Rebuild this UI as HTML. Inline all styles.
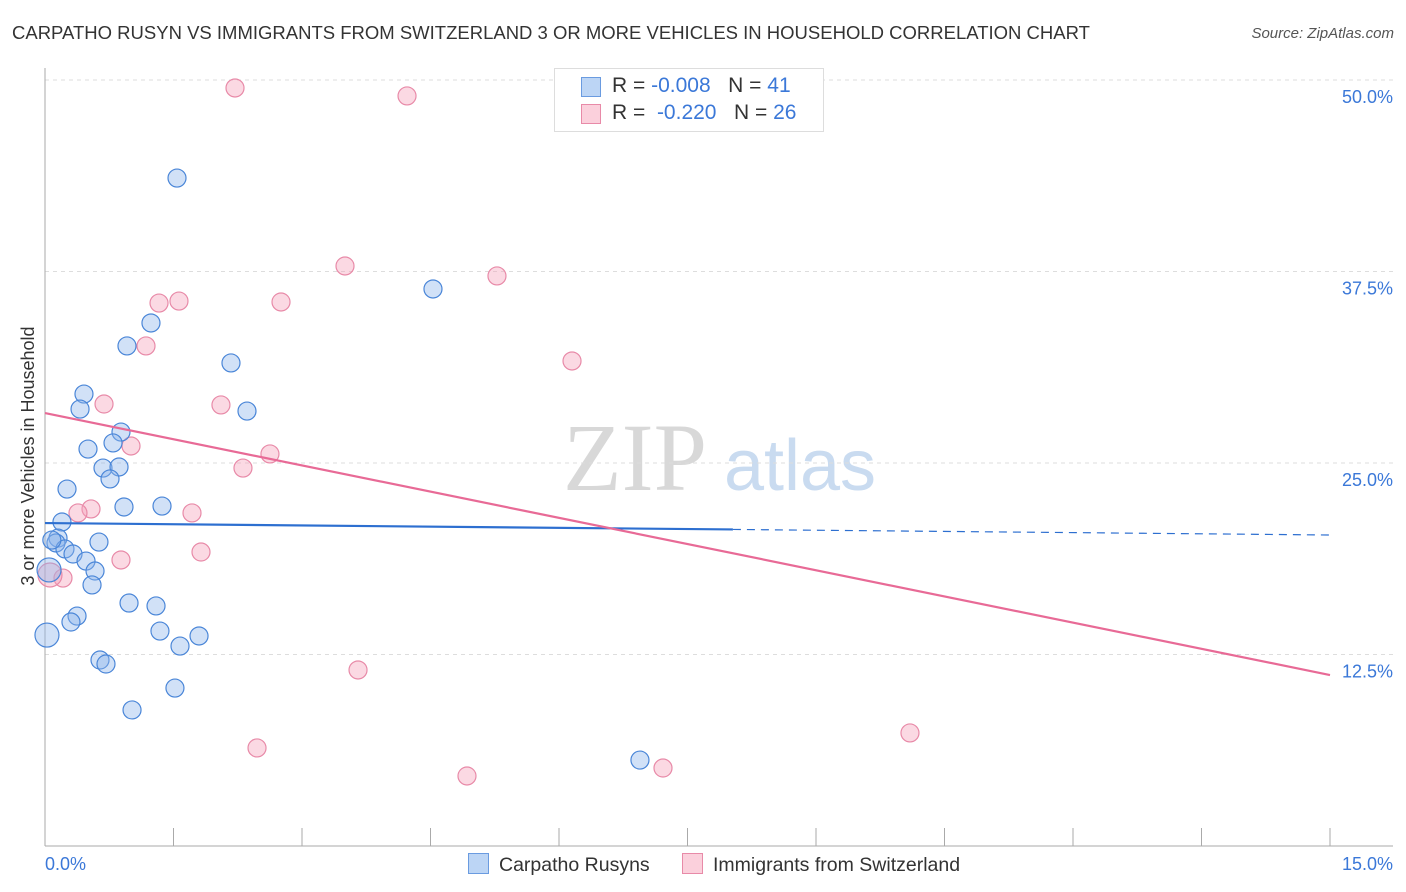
<!DOCTYPE html>
<html><head><meta charset="utf-8">
<style>
body{margin:0;background:#fff;font-family:"Liberation Sans",sans-serif;}
#wrap{position:relative;width:1406px;height:892px;overflow:hidden;}
.t{position:absolute;white-space:nowrap;}
</style></head>
<body>
<div id="wrap">
<div class="t" style="left:12px;top:22px;font-size:18.5px;color:#333;">CARPATHO RUSYN VS IMMIGRANTS FROM SWITZERLAND 3 OR MORE VEHICLES IN HOUSEHOLD CORRELATION CHART</div>
<div class="t" style="right:12px;top:25px;font-size:15px;color:#555;font-style:italic;">Source: ZipAtlas.com</div>
<svg id="svg" width="1406" height="892" style="position:absolute;left:0;top:0;"></svg>
</div>
<script>
const xTicks=[0,1.5,3,4.5,6,7.5,9,10.5,12,13.5,15];
const yTicks=[12.5,25,37.5,50];
const yTickLabels=["12.5%","25.0%","37.5%","50.0%"];
const blueX=[1.541,4.529,1.237,0.957,2.171,0.455,0.409,2.358,0.887,0.794,0.502,0.677,0.864,0.759,0.257,0.922,1.366,0.198,0.152,0.128,0.630,0.233,0.327,0.479,0.584,0.047,0.549,0.981,1.296,0.374,0.303,1.342,1.798,0.023,1.576,0.642,0.712,1.517,1.016,6.945,0.08];
const blueY=[43.60,36.36,34.14,32.64,31.53,29.50,28.52,28.39,27.02,26.31,25.91,24.67,24.74,23.96,23.30,22.13,22.19,21.15,20.10,19.78,19.84,19.39,19.06,18.60,17.95,18.02,17.04,15.86,15.67,15.01,14.62,14.03,13.71,13.77,13.05,12.14,11.88,10.31,8.88,5.61,19.97];
const pinkX=[2.218,4.226,3.502,5.276,1.331,1.564,2.755,1.179,6.152,0.689,2.054,1.004,2.626,2.311,0.537,0.385,1.716,1.821,0.887,0.210,0.058,3.654,2.475,10.097,4.926,7.214];
const pinkY=[49.48,48.96,37.86,37.21,35.44,35.57,35.51,32.64,31.66,28.85,28.79,26.11,25.59,24.67,22.00,21.74,21.74,19.19,18.67,17.49,17.69,11.49,6.40,7.38,4.57,5.09];
const blueTrend=[21.08,20.30];
const blueSolidEnd=8.03;
const pinkTrend=[28.26,11.16];
const X=v=>45+v/15*1285;
const Y=v=>846-v/12.5*191.5;
const svg=document.getElementById('svg');
const NS='http://www.w3.org/2000/svg';
function mk(tag,attrs){const e=document.createElementNS(NS,tag);for(const k in attrs)e.setAttribute(k,attrs[k]);svg.appendChild(e);return e;}
let wm=mk('text',{x:635,y:490,'font-size':96,'font-family':'Liberation Serif, serif',fill:'#d8d8d8','text-anchor':'middle'});
wm.textContent='ZIP';


let wm2=mk('text',{x:800,y:490,'font-size':72,'font-family':'Liberation Sans, sans-serif',fill:'#c9dbf0','text-anchor':'middle'});
wm2.textContent='atlas';


yTicks.forEach((v,i)=>{
 let g=mk('line',{x1:45,x2:1393,y1:Y(v),y2:Y(v),stroke:'#ddd','stroke-dasharray':'4,4'});
 
 
 let t=mk('text',{x:1393,y:Y(v)+23,'font-size':18,fill:'#3b78d8','text-anchor':'end'});
 t.textContent=yTickLabels[i];
 
 
});
let tg=mk('line',{x1:45,x2:1393,y1:80,y2:80,stroke:'#ddd','stroke-dasharray':'4,4'});


let ax=mk('line',{x1:45,x2:1393,y1:846,y2:846,stroke:'#aaa'});


let ay=mk('line',{x1:45,x2:45,y1:68,y2:846,stroke:'#aaa'});


xTicks.forEach(v=>{
 let l=mk('line',{x1:X(v),x2:X(v),y1:828,y2:846,stroke:'#aaa'});
 
 
});
let xl0=mk('text',{x:45,y:870,'font-size':18,fill:'#3b78d8'});xl0.textContent='0.0%';


let xl1=mk('text',{x:1393,y:870,'font-size':18,fill:'#3b78d8','text-anchor':'end'});xl1.textContent='15.0%';


let yt=mk('text',{x:0,y:0,'font-size':18,fill:'#333','text-anchor':'middle',transform:'translate(34,456) rotate(-90)'});
yt.textContent='3 or more Vehicles in Household';


function pts(xs,ys,fill,stroke,name){
 xs.forEach((v,i)=>{
  const big=(v<0.07);
  let c=mk('circle',{cx:X(v),cy:Y(ys[i]),r:big?12:9,fill:fill,stroke:stroke,'stroke-width':1.2});
  
  
 });
}
pts(pinkX,pinkY,'rgba(244,160,185,0.4)','#e88aa8','pink-point');
pts(blueX,blueY,'rgba(140,180,235,0.4)','#4a86d8','blue-point');
const bAt=x=>blueTrend[0]+(blueTrend[1]-blueTrend[0])*x/15;
let bl=mk('line',{x1:X(0),y1:Y(bAt(0)),x2:X(blueSolidEnd),y2:Y(bAt(blueSolidEnd)),stroke:'#2d6fd0','stroke-width':2.2});


let bd=mk('line',{x1:X(blueSolidEnd),y1:Y(bAt(blueSolidEnd)),x2:X(15),y2:Y(bAt(15)),stroke:'#2d6fd0','stroke-width':1.2,'stroke-dasharray':'8,6'});


let pl=mk('line',{x1:X(0),y1:Y(pinkTrend[0]),x2:X(15),y2:Y(pinkTrend[1]),stroke:'#e86a96','stroke-width':2.2});


</script>
<div class="t" style="left:554px;top:68px;width:268px;height:62px;border:1px solid #ddd;background:#fff;font-size:21px;color:#333;">
 <div style="position:absolute;left:26px;top:8px;width:18px;height:18px;background:#bcd5f5;border:1px solid #6a9be0;"></div>
 <div style="position:absolute;left:57px;top:5px;">R = <span style="color:#3b78d8">-0.008</span>&nbsp;&nbsp;&nbsp;N = <span style="color:#3b78d8">41</span></div>
 <div style="position:absolute;left:26px;top:35px;width:18px;height:18px;background:#fbd0dc;border:1px solid #e88aa8;"></div>
 <div style="position:absolute;left:57px;top:32px;">R = &nbsp;<span style="color:#3b78d8">-0.220</span>&nbsp;&nbsp;&nbsp;N = <span style="color:#3b78d8">26</span></div>
</div>
<div class="t" style="left:468px;top:853px;font-size:19.5px;color:#333;"><span style="display:inline-block;width:19px;height:19px;background:#bcd5f5;border:1px solid #6a9be0;vertical-align:-3px;margin-right:10px;"></span>Carpatho Rusyns</div>
<div class="t" style="left:682px;top:853px;font-size:19.5px;color:#333;"><span style="display:inline-block;width:19px;height:19px;background:#fbd0dc;border:1px solid #e88aa8;vertical-align:-3px;margin-right:10px;"></span>Immigrants from Switzerland</div>
</body></html>
